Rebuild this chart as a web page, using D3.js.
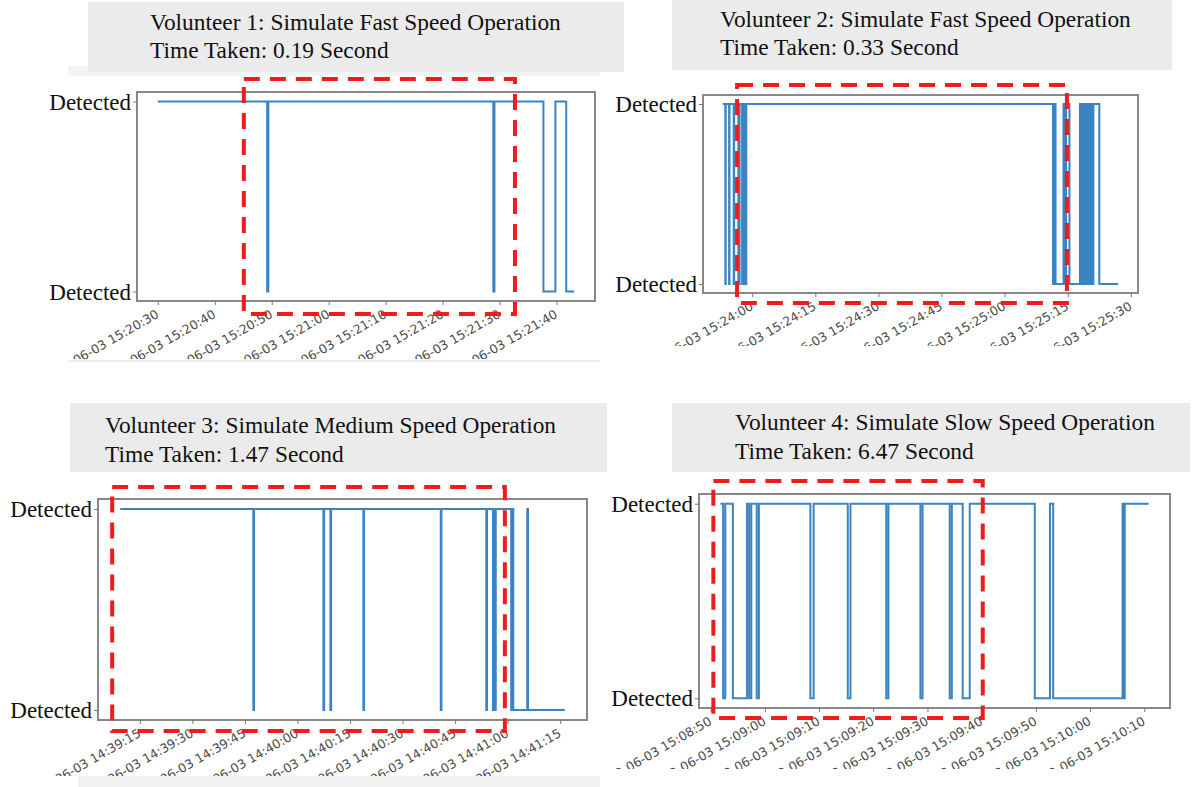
<!DOCTYPE html>
<html>
<head>
<meta charset="utf-8">
<title>Volunteer detection</title>
<script src="https://cdn.jsdelivr.net/npm/d3@7"></script>
<style>
  body { margin: 0; background: #fff; }
  svg { display: block; }
</style>
</head>
<body>
<script>
// detection state per volunteer: 1 = top level, 0 = bottom level (step after)
const v1Times = ["15:20:30.0","15:20:49.2","15:20:49.4","15:21:28.9","15:21:29.1","15:21:37.7","15:21:39.8","15:21:41.7","15:21:43.1"];
const v1States = [1,0,1,0,1,0,1,0,0];

const v2Times = ["15:23:53.0","15:23:53.6","15:23:53.7","15:23:54.5","15:23:54.6","15:23:55.6","15:23:55.7","15:23:56.7","15:23:57.0",
  "15:23:57.6","15:23:57.8","15:23:58.0","15:23:58.2","15:23:58.4","15:23:58.6",
  "15:25:11.5","15:25:11.7","15:25:12.1","15:25:14.0","15:25:14.3","15:25:14.6","15:25:15.4","15:25:17.9","15:25:18.3",
  "15:25:18.7","15:25:19.1","15:25:19.5","15:25:19.9","15:25:20.3","15:25:20.7","15:25:21.1","15:25:22.5","15:25:27.0"];
const v2States = [1,0,1,0,1,0,1,0,1, 0,1,0,1,0,1, 0,1,0,1,0,1,0,1,0, 1,0,1,0,1,0,1,0,0];

const v3Times = ["14:39:09.4","14:39:47.4","14:39:47.6","14:40:07.4","14:40:07.6","14:40:09.4","14:40:09.6","14:40:18.8","14:40:19.0",
  "14:40:40.9","14:40:41.1","14:40:53.9","14:40:54.1","14:40:55.8","14:40:56.0","14:40:56.4","14:40:56.6",
  "14:41:01.0","14:41:01.3","14:41:01.6","14:41:05.6","14:41:05.8","14:41:16.3"];
const v3States = [1,0,1,0,1,0,1,0,1, 0,1,0,1,0,1,0,1, 0,1,0,1,0,0];

const v4Times = ["15:08:51.8","15:08:52.3","15:08:52.7","15:08:54.1","15:08:56.7","15:08:57.1","15:08:57.5","15:08:58.5","15:08:58.9",
  "15:09:08.4","15:09:09.0","15:09:15.3","15:09:15.8","15:09:22.4","15:09:22.8","15:09:28.7","15:09:29.1",
  "15:09:34.1","15:09:34.5","15:09:36.5","15:09:37.8","15:09:49.8","15:09:52.6","15:09:53.2",
  "15:10:06.0","15:10:06.2","15:10:06.4","15:10:10.8"];
const v4States = [1,0,1,0,1,0,1,0,1, 0,1,0,1,0,1,0,1, 0,1,0,1,0,1,0, 1,0,1,1];

// x tick labels
const v1Ticks = ["15:20:30","15:20:40","15:20:50","15:21:00","15:21:10","15:21:20","15:21:30","15:21:40"];
const v2Ticks = ["15:24:00","15:24:15","15:24:30","15:24:45","15:25:00","15:25:15","15:25:30"];
const v3Ticks = ["14:39:15","14:39:30","14:39:45","14:40:00","14:40:15","14:40:30","14:40:45","14:41:00","14:41:15"];
const v4Ticks = ["15:08:50","15:09:00","15:09:10","15:09:20","15:09:30","15:09:40","15:09:50","15:10:00","15:10:10"];

// titles
const titles = [
  ["Volunteer 1: Simulate Fast Speed Operation", "Time Taken: 0.19 Second"],
  ["Volunteer 2: Simulate Fast Speed Operation", "Time Taken: 0.33 Second"],
  ["Volunteer 3: Simulate Medium Speed Operation", "Time Taken: 1.47 Second"],
  ["Volunteer 4: Simulate Slow Speed Operation", "Time Taken: 6.47 Second"]
];
const levelLabels = ["Detected", "Detected"];

// highlighted windows (red dashed boxes): start, end, low, high
const v1Window = ["15:20:45.1", "15:21:32.7", -0.118, 1.118];
const v2Window = ["15:23:56.4", "15:25:14.8", -0.106, 1.106];
const v3Window = ["14:39:07.1", "14:40:59.2", -0.105, 1.110];
const v4Window = ["15:08:50.5", "15:09:40.2", -0.101, 1.117];

const datePrefix = "2023-06-03 ";
function parseClock(s) {
  const p = s.split(":");
  const sec = +p[2];
  return new Date(2023, 5, 3, +p[0], +p[1], Math.floor(sec), Math.round((sec % 1) * 1000));
}

const W = 1200, H = 787;
const svg = d3.select("body").append("svg").attr("width", W).attr("height", H);
const defs = svg.append("defs");

// backdrop pieces of the screenshots
svg.append("rect").attr("x", 68).attr("y", 66).attr("width", 532).attr("height", 10).attr("fill", "#f3f3f3");
svg.append("rect").attr("x", 68).attr("y", 360).attr("width", 532).attr("height", 2).attr("fill", "#eeeeee");
svg.append("rect").attr("x", 78).attr("y", 776).attr("width", 522).attr("height", 11).attr("fill", "#f1f1f1");

const panels = [
  { times: v1Times, states: v1States, ticks: v1Ticks, win: v1Window, title: titles[0],
    box: { x: 88, y: 2, w: 536, h: 70, tx: 150, ty: [30, 58] },
    frame: { x0: 137, x1: 595, y0: 92, y1: 301 }, clipY: 359 },
  { times: v2Times, states: v2States, ticks: v2Ticks, win: v2Window, title: titles[1],
    box: { x: 672, y: 0, w: 500, h: 70, tx: 720, ty: [27, 55] },
    frame: { x0: 703, x1: 1138, y0: 95, y1: 293 }, clipY: 346 },
  { times: v3Times, states: v3States, ticks: v3Ticks, win: v3Window, title: titles[2],
    box: { x: 70, y: 403, w: 537, h: 69, tx: 105, ty: [433, 462] },
    frame: { x0: 98, x1: 587, y0: 499, y1: 720 }, clipY: 776 },
  { times: v4Times, states: v4States, ticks: v4Ticks, win: v4Window, title: titles[3],
    box: { x: 672, y: 403, w: 518, h: 69, tx: 735, ty: [430, 459] },
    frame: { x0: 699, x1: 1170, y0: 494, y1: 708 }, clipY: 769 }
];

panels.forEach((p, i) => {
  const data = p.times.map((t, k) => ({ t: parseClock(t), v: p.states[k] }));
  const ext = d3.extent(data, d => d.t);
  const pad = (ext[1] - ext[0]) * 0.05;
  const x = d3.scaleTime()
    .domain([new Date(+ext[0] - pad), new Date(+ext[1] + pad)])
    .range([p.frame.x0, p.frame.x1]);
  const y = d3.scaleLinear().domain([-0.05, 1.05]).range([p.frame.y1, p.frame.y0]);

  const g = svg.append("g");

  // title box
  g.append("rect").attr("x", p.box.x).attr("y", p.box.y)
    .attr("width", p.box.w).attr("height", p.box.h).attr("fill", "#ebebeb");
  g.selectAll("text.title").data(p.title).enter().append("text")
    .attr("class", "title")
    .attr("x", p.box.tx).attr("y", (d, k) => p.box.ty[k])
    .attr("font-family", "Liberation Serif, Times New Roman, serif")
    .attr("font-size", 23.4).attr("fill", "#111")
    .text(d => d);

  // plot area
  g.append("rect").attr("x", p.frame.x0).attr("y", p.frame.y0)
    .attr("width", p.frame.x1 - p.frame.x0).attr("height", p.frame.y1 - p.frame.y0)
    .attr("fill", "#fff");

  const line = d3.line().x(d => x(d.t)).y(d => y(d.v)).curve(d3.curveStepAfter);
  g.append("path").datum(data)
    .attr("d", line).attr("fill", "none")
    .attr("stroke", "#3a84c1").attr("stroke-width", 2);

  g.append("rect").attr("x", p.frame.x0).attr("y", p.frame.y0)
    .attr("width", p.frame.x1 - p.frame.x0).attr("height", p.frame.y1 - p.frame.y0)
    .attr("fill", "none").attr("stroke", "#888").attr("stroke-width", 2);

  // y axis
  const yAxis = d3.axisLeft(y).tickValues([0, 1]).tickSize(4).tickPadding(2)
    .tickFormat((d, k) => levelLabels[k]);
  const ya = g.append("g").attr("transform", `translate(${p.frame.x0},0)`).call(yAxis);
  ya.select(".domain").remove();
  ya.selectAll("line").attr("stroke", "#777");
  ya.selectAll("text").attr("font-family", "Liberation Serif, Times New Roman, serif")
    .attr("font-size", 23).attr("fill", "#111").attr("dy", "0.33em");

  // x axis, labels clipped by the screenshot edge
  const clipId = "clip" + i;
  defs.append("clipPath").attr("id", clipId).append("rect")
    .attr("x", p.frame.x0 - 200).attr("y", p.frame.y1)
    .attr("width", p.frame.x1 - p.frame.x0 + 260).attr("height", p.clipY - p.frame.y1);
  const tickDates = p.ticks.map(parseClock);
  const xAxis = d3.axisBottom(x).tickValues(tickDates).tickSize(4)
    .tickFormat((d, k) => datePrefix + p.ticks[k]);
  const xa = g.append("g").attr("clip-path", `url(#${clipId})`)
    .append("g").attr("transform", `translate(0,${p.frame.y1})`).call(xAxis);
  xa.select(".domain").remove();
  xa.selectAll("line").attr("stroke", "#777");
  xa.selectAll("text")
    .attr("font-family", "DejaVu Sans, sans-serif").attr("font-size", 12.5).attr("fill", "#4a4a4a")
    .attr("text-anchor", "end")
    .attr("x", 0).attr("y", 0).attr("dy", "0.71em")
    .attr("transform", "translate(-3,8) rotate(-30)");

  // red dashed highlight window
  const wx0 = x(parseClock(p.win[0])), wx1 = x(parseClock(p.win[1]));
  const wy0 = y(p.win[3]), wy1 = y(p.win[2]);
  g.append("rect").attr("x", wx0).attr("y", wy0)
    .attr("width", wx1 - wx0).attr("height", wy1 - wy0)
    .attr("fill", "none").attr("stroke", "#ee1c1c").attr("stroke-width", 4)
    .attr("stroke-dasharray", "16,10");
});
</script>
</body>
</html>
